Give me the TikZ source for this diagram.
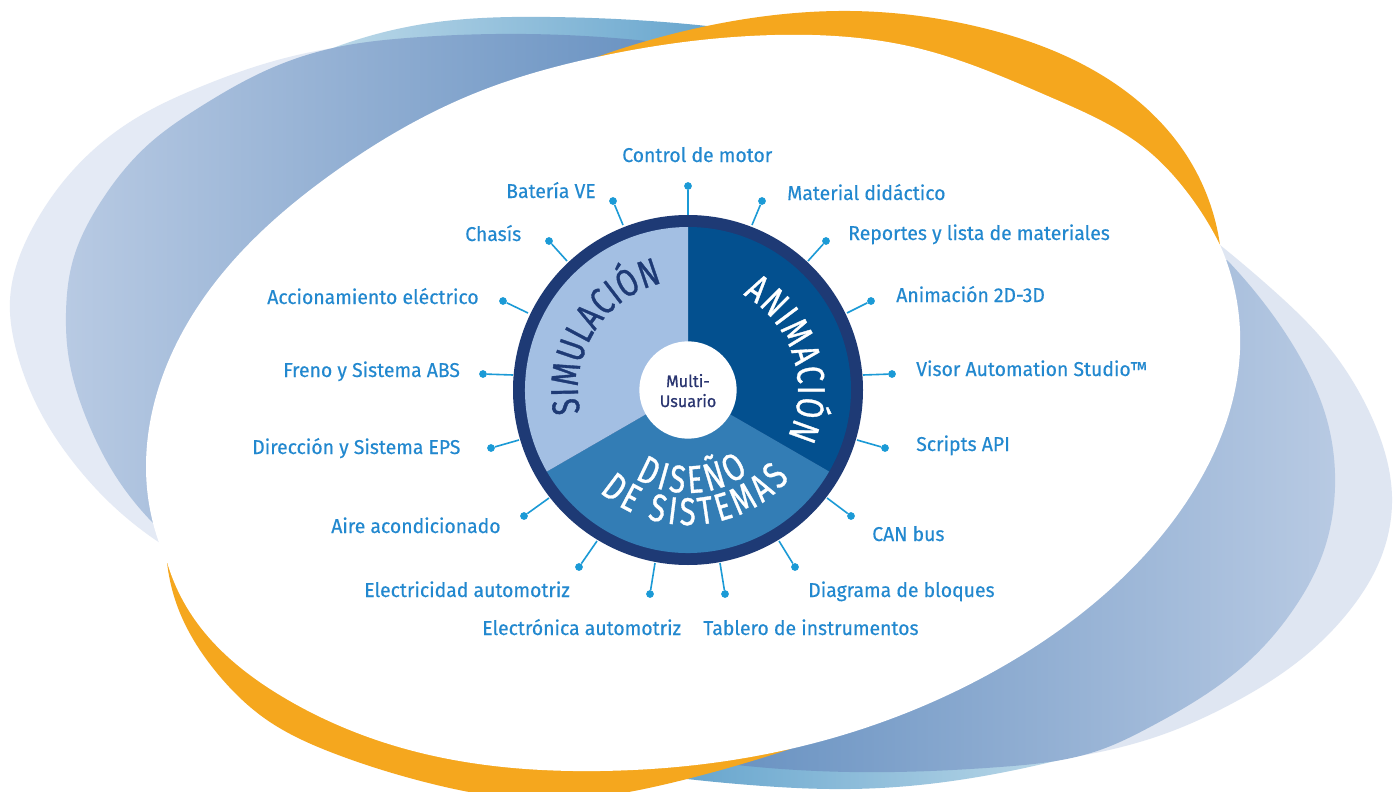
\documentclass[tikz,border=0pt]{standalone}
\usepackage{fontspec}
\usetikzlibrary{decorations.text,hobby}
\setmainfont[FakeStretch=0.97,FakeBold=0.35]{Fira Sans}
\newfontfamily\hubfont[FakeStretch=0.97,FakeBold=0.8]{Fira Sans}
\newfontfamily\bigfont[FakeStretch=0.76,FakeBold=0.9]{Fira Sans}
\definecolor{ringblue}{HTML}{1E3A75}
\definecolor{aniblue}{HTML}{03508F}
\definecolor{disblue}{HTML}{337DB5}
\definecolor{simblue}{HTML}{A3BFE3}
\definecolor{labelblue}{HTML}{2288CF}
\definecolor{spokeblue}{HTML}{1B9AD6}
\definecolor{hubtext}{HTML}{2A3570}
\definecolor{orangeband}{HTML}{F5A71E}
\definecolor{palea}{HTML}{E4EAF5}
\definecolor{paleb}{HTML}{DFE6F2}
\definecolor{midlight}{HTML}{B8CAE3}
\definecolor{middark}{HTML}{6A93C2}
\definecolor{cyanlight}{HTML}{BBD8E8}
\definecolor{cyandark}{HTML}{68A6CE}
\tikzset{
  spokedot/.style={circle,fill=spokeblue,draw=none,minimum size=5.8pt,inner sep=0pt},
  spokeline/.style={draw=spokeblue,line width=1.2pt},
  lab/.style={anchor=base west,inner sep=0pt,text=labelblue,font=\fontsize{15}{15}\selectfont},
  hubtxt/.style={anchor=base,inner sep=0pt,text=hubtext,font=\hubfont\fontsize{12.5}{12.5}\selectfont},
}
\newcommand{\bigtxt}{\bigfont\fontsize{29}{29}\selectfont}
\begin{document}
\begin{tikzpicture}[x=0.75pt,y=-0.75pt]
\useasboundingbox (0,0) rectangle (1400,792);
\clip (0,0) rectangle (1400,792);
\fill[white] (0,0) rectangle (1400,792);
% pale crescents
\fill[palea] (160,543) to[curve through={(110,503) .. (70,458) .. (43,417) .. (17,353) .. (10,300) .. (33,227) .. (67,177) .. (133,120) .. (200,87) .. (267,63)}] (333,48) -- (450,60) -- (600,300) -- cycle;
\fill[paleb] (1220,245) to[curve through={(1273,290) .. (1317,333) .. (1373,420) .. (1392,497) .. (1380,560) .. (1350,610) .. (1300,660) .. (1233,703) .. (1167,733) .. (1100,752)}] (1067,758) -- (900,600) -- cycle;
% light-blue bands
\path[left color=cyanlight,right color=cyandark] (333,48) to[curve through={(430,23) .. (550,17) .. (650,21)}] (707,26) -- (700,60) -- (400,80) -- cycle;
\path[left color=cyandark,right color=cyanlight] (687,779) to[curve through={(750,785) .. (850,789) .. (937,783) .. (1000,773)}] (1067,758) -- (900,600) -- (750,700) -- cycle;
% mid-blue crescents
\path[left color=midlight,right color=middark] (153,523) to[curve through={(110,467) .. (87,420) .. (68,353) .. (66,313) .. (73,260) .. (100,203) .. (150,143) .. (200,107) .. (267,70) .. (333,48) .. (407,38) .. (526,34)}] (647,41) -- (600,300) -- cycle;
\path[left color=middark,right color=midlight] (737,765) to[curve through={(850,772) .. (1000,767) .. (1100,750) .. (1150,727) .. (1250,660) .. (1293,610) .. (1323,553) .. (1335,487) .. (1327,420) .. (1300,357) .. (1267,307)}] (1227,260) -- (800,500) -- cycle;
% orange bands
\fill[orangeband] (597,57) to[curve through={(707,26) .. (850,11) .. (983,28) .. (1117,85) .. (1183,150)}] (1220,245) -- (800,200) -- cycle;
\fill[orangeband] (167,562) to[curve through={(180,613) .. (217,673) .. (267,720) .. (333,753) .. (417,780) .. (550,800) .. (683,780)}] (790,749) -- (500,500) -- cycle;
% white lens
\fill[white] (167,562) to[curve through={(148,497) .. (155,400) .. (217,280) .. (333,173) .. (478,92) .. (597,57) .. (775,35) .. (917,48) .. (1050,97) .. (1147,150) .. (1183,187)}] (1220,245) -- (900,500) -- (500,600) -- cycle;
\fill[white] (1220,245) to[curve through={(1240,350) .. (1227,420) .. (1200,480) .. (1117,583) .. (1000,668) .. (790,749) .. (600,771) .. (417,752) .. (283,697) .. (193,617)}] (167,562) -- (500,200) -- (900,150) -- cycle;
% spokes
\foreach \n/\dx/\dy/\ex/\ey in {
  a/688/186/688/215, b/613/201/623/225, c/549/241/567/261, d/503/301/528/313,
  e/483/374/513/375, f/491/448/519/440, g/524/516/549/498, h/579/567/597/541,
  i/650/594/655/563, j/725/594/720/563, k/795/567/779/541, l/851/516/827/498,
  m/885/448/857/440, n/892/374/863/375, o/871/301/847/313, p/826/241/808/261,
  q/762/201/752/225}{
  \node[spokedot] (dot\n) at (\dx,\dy) {};
  \coordinate (end\n) at (\ex,\ey);
  \draw[spokeline] (dot\n) -- (end\n);
}
% wheel
\node[circle,fill=ringblue,minimum size=262.5pt,inner sep=0pt] (ring) at (688,390) {};
\begin{scope}[shift={(688,390)},x=0.75pt,y=0.75pt]
  \fill[aniblue] (0,0) -- (90:163) arc[start angle=90,end angle=-30,radius=163] -- cycle;
  \fill[disblue] (0,0) -- (-30:163) arc[start angle=-30,end angle=-150,radius=163] -- cycle;
  \fill[simblue] (0,0) -- (-150:163) arc[start angle=210,end angle=90,radius=163] -- cycle;
  \path[decorate,decoration={text along path,text align=fit to path,
     text={|\bigtxt\color{ringblue}|SIMULACIÓN}}]
     (192:110) arc[start angle=192,end angle=103.5,radius=110];
  \path[decorate,decoration={text along path,text align=fit to path,
     text={|\bigtxt\color{white}|ANIMACIÓN}}]
     (60:110) arc[start angle=60,end angle=-25,radius=110];
  \path[decorate,decoration={text along path,text align=fit to path,
     text={|\bigtxt\color{white}|DE SISTEMAS}}]
     (-131:135) arc[start angle=-131,end angle=-41,radius=135];
  \path[decorate,decoration={text along path,text align=fit to path,
     text={|\bigtxt\color{white}|DISEÑO}}]
     (-121:103) arc[start angle=-121,end angle=-54,radius=103];
\end{scope}
\node[circle,fill=white,minimum size=73pt,inner sep=0pt] (hub) at (688,390) {};
\node[hubtxt] (multi) at (688,387) {Multi-};
\node[hubtxt] (usuario) at (688,407) {Usuario};
% labels
\node[lab] (la) at (622,162) {Control de motor};
\node[lab] (lb) at (506,198) {Batería VE};
\node[lab] (lc) at (465,241) {Chasís};
\node[lab] (ld) at (267,304) {Accionamiento eléctrico};
\node[lab] (le) at (283,377) {Freno y Sistema ABS};
\node[lab] (lf) at (252,454) {Dirección y Sistema EPS};
\node[lab] (lg) at (331,533) {Aire acondicionado};
\node[lab] (lh) at (364,597) {Electricidad automotriz};
\node[lab] (li) at (482,635) {Electrónica automotriz};
\node[lab] (lj) at (703,635) {Tablero de instrumentos};
\node[lab] (lk) at (808,597) {Diagrama de bloques};
\node[lab] (ll) at (872,541) {CAN bus};
\node[lab] (lm) at (916,451) {Scripts API};
\node[lab] (ln) at (916,376) {Visor Automation Studio™};
\node[lab] (lo) at (896,302) {Animación 2D-3D};
\node[lab] (lp) at (848,240) {Reportes y lista de materiales};
\node[lab] (lq) at (787,200) {Material didáctico};
\end{tikzpicture}
\end{document}
